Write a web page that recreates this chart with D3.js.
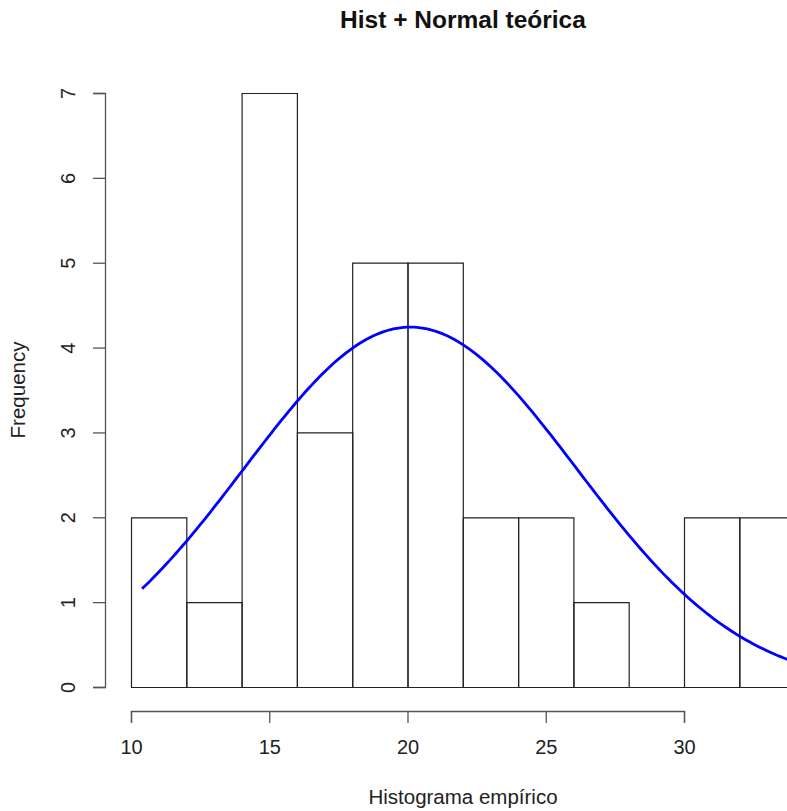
<!DOCTYPE html>
<html>
<head>
<meta charset="utf-8">
<script src="https://cdn.jsdelivr.net/npm/d3@7"></script>
<style>
  html, body { margin: 0; padding: 0; background: #fff; }
  svg { display: block; font-family: "Liberation Sans", Arial, Helvetica, sans-serif; }
</style>
</head>
<body>
<svg id="chart" width="787" height="811"></svg>
<script>
// Histogram bins (break points) and counts per bin
const breaks = [10, 12, 14, 16, 18, 20, 22, 24, 26, 28, 30, 32, 34];
const counts = [2, 1, 7, 3, 5, 5, 2, 2, 1, 0, 2, 2];

// Axis tick values
const xTicks = [10, 15, 20, 25, 30];
const yTicks = [0, 1, 2, 3, 4, 5, 6, 7];

// Theoretical normal overlay: sample size, mean, sd and the x range of the curve
const sampleSize = [32];
const normalMean = [20.1];
const normalSd = [6.02];
const curveRange = [10.4, 34.96];

const svg = d3.select("#chart");

const x = d3.scaleLinear().domain([10, 30]).range([131, 684]);
const y = d3.scaleLinear().domain([0, 7]).range([687, 93]);

const bins = counts.map((c, i) => ({ x0: breaks[i], x1: breaks[i + 1], count: c }));

// Bars as closed outlines so empty bins still show their base line
svg.append("g")
  .selectAll("path")
  .data(bins)
  .join("path")
  .attr("d", d => {
    const p = d3.path();
    const l = x(d.x0) + 0.5, r = x(d.x1) + 0.5, b = y(0) + 0.5, t = y(d.count) + 0.5;
    p.moveTo(l, b); p.lineTo(l, t); p.lineTo(r, t); p.lineTo(r, b); p.closePath();
    return p.toString();
  })
  .attr("fill", "none")
  .attr("stroke", "#222")
  .attr("stroke-width", 1.2);

// Normal density scaled to counts (n * bin width * dnorm)
const binWidth = breaks[1] - breaks[0];
const dnorm = (v, m, s) => Math.exp(-((v - m) ** 2) / (2 * s * s)) / (s * Math.sqrt(2 * Math.PI));
const curvePts = d3.range(0, 201).map(i => {
  const xv = curveRange[0] + (curveRange[1] - curveRange[0]) * i / 200;
  return [xv, sampleSize[0] * binWidth * dnorm(xv, normalMean[0], normalSd[0])];
});

svg.append("path")
  .datum(curvePts)
  .attr("fill", "none")
  .attr("stroke", "#0000ff")
  .attr("stroke-width", 2.8)
  .attr("d", d3.line().x(d => x(d[0])).y(d => y(d[1])));

// X axis
const xAxis = svg.append("g")
  .attr("transform", "translate(0,711)")
  .call(d3.axisBottom(x).tickValues(xTicks).tickSize(12).tickSizeOuter(12).tickPadding(17).tickFormat(d3.format("d")));

// Y axis with rotated labels
const yAxis = svg.append("g")
  .attr("transform", "translate(105,0)")
  .call(d3.axisLeft(y).tickValues(yTicks).tickSize(12).tickSizeOuter(12).tickFormat(d3.format("d")));

yAxis.selectAll(".tick text")
  .attr("x", null)
  .attr("dy", null)
  .attr("text-anchor", "middle")
  .attr("transform", "translate(-30,0) rotate(-90)");

[xAxis, yAxis].forEach(g => {
  g.selectAll("path.domain").attr("stroke", "#555").attr("stroke-width", 1.3);
  g.selectAll(".tick line").attr("stroke", "#555").attr("stroke-width", 1.3);
  g.selectAll(".tick text").attr("font-size", 20).attr("fill", "#222")
    .attr("font-family", "'Liberation Sans', Arial, sans-serif");
});

// Titles
svg.append("text")
  .attr("x", 463).attr("y", 28)
  .attr("text-anchor", "middle")
  .attr("font-size", 24.5)
  .attr("font-weight", "bold")
  .attr("fill", "#111")
  .text("Hist + Normal teórica");

svg.append("text")
  .attr("x", 463).attr("y", 804)
  .attr("text-anchor", "middle")
  .attr("font-size", 20.5)
  .attr("fill", "#222")
  .text("Histograma empírico");

svg.append("text")
  .attr("transform", "translate(25,390) rotate(-90)")
  .attr("text-anchor", "middle")
  .attr("font-size", 20.5)
  .attr("fill", "#222")
  .text("Frequency");
</script>
</body>
</html>
